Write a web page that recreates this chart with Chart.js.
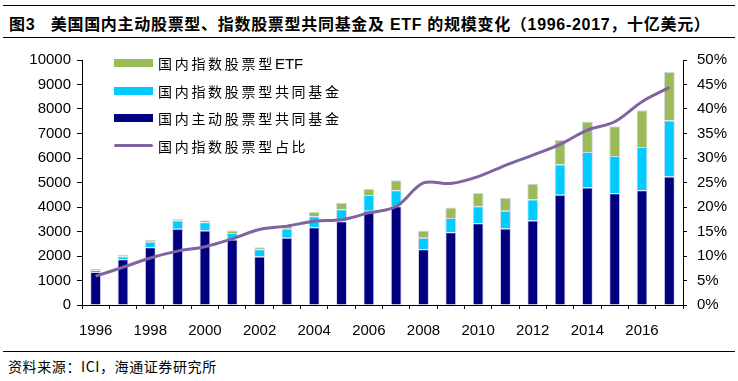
<!DOCTYPE html>
<html>
<head>
<meta charset="utf-8">
<script src="https://cdn.jsdelivr.net/npm/chart.js@4/dist/chart.umd.min.js"></script>
<style>
  body { margin: 0; background: #fff; width: 738px; height: 381px; position: relative; overflow: hidden; font-family: "Liberation Sans", Arial, "Noto Sans CJK SC", sans-serif; }
  .rule { position: absolute; left: 3px; right: 3px; height: 0; border-top: 1px solid #000; }
  #title { position: absolute; left: 9px; top: 11px; font-size: 16px; font-weight: bold; white-space: nowrap; letter-spacing: 0.7px; }
  #source { position: absolute; left: 8px; top: 356px; font-size: 14px; letter-spacing: 0.6px; font-family: "Noto Sans CJK SC", sans-serif; white-space: nowrap; }
  #wrap { position: absolute; left: 0; top: 40px; width: 738px; height: 305px; }
  #legend { position: absolute; left: 114px; top: 52px; font-family: "Noto Sans CJK SC", sans-serif; font-size: 14px; letter-spacing: 2.7px; }
  .item { position: relative; height: 27.5px; }
  .sw { position: absolute; left: 0; top: 7px; width: 39px; height: 8px; }
  .ln { position: absolute; left: 0; top: 9px; width: 39px; height: 3px; border-radius: 2px; }
  .tx { position: absolute; left: 44px; top: 0; line-height: 22px; white-space: nowrap; }
  .latin { font-family: "Liberation Sans", Arial, sans-serif; letter-spacing: 0; font-size: 15px; }
</style>
</head>
<body>
<div class="rule" style="top:5px"></div>
<div id="title">图3&nbsp;&nbsp;&nbsp;美国国内主动股票型、指数股票型共同基金及 ETF 的规模变化（1996-2017，十亿美元）</div>
<div class="rule" style="top:37px"></div>
<div id="wrap"><canvas id="c" width="738" height="305"></canvas></div>
<div id="legend"></div>
<div class="rule" style="top:351px"></div>
<div id="source">资料来源：ICI，海通证券研究所</div>
<script>
const years = ["1996","1997","1998","1999","2000","2001","2002","2003","2004","2005","2006",
               "2007","2008","2009","2010","2011","2012","2013","2014","2015","2016","2017"];
const activeFund = [1350,1870,2360,3110,3040,2670,1980,2750,3170,3420,3850,
                    4030,2280,2970,3340,3120,3450,4500,4800,4560,4680,5250];
const indexFund = [70,110,220,340,340,270,300,360,450,490,640,
                   650,470,580,690,730,860,1230,1440,1520,1770,2280];
const indexEtf = [50,70,80,60,80,100,80,160,190,260,250,
                  410,290,430,540,530,640,1000,1250,1220,1500,1980];
const indexShare = [5.9,7.7,9.6,11.0,11.9,13.5,15.4,16.1,17.1,17.4,18.8,
                    20.1,24.9,24.8,26.2,28.5,30.6,32.8,35.7,37.4,41.5,44.4];

const navy = "#000080", cyan = "#00CCFF", green = "#9BBB59", purple = "#8064A2";
const edge = "rgba(210,210,235,0.9)";

Chart.defaults.font.family = "'Liberation Sans', Arial, sans-serif";
Chart.defaults.font.size = 15;
Chart.defaults.color = "#000";

new Chart(document.getElementById("c"), {
  type: "bar",
  data: {
    labels: years,
    datasets: [
      { label: "国内主动股票型共同基金", data: activeFund, backgroundColor: navy, borderColor: edge, borderWidth: 1, order: 1 },
      { label: "国内指数股票型共同基金", data: indexFund, backgroundColor: cyan, borderColor: edge, borderWidth: 1, order: 1 },
      { label: "国内指数股票型ETF", data: indexEtf, backgroundColor: green, borderColor: edge, borderWidth: 1, order: 1 },
      { type: "line", label: "国内指数股票型占比", data: indexShare, yAxisID: "y1", borderColor: purple,
        borderWidth: 3, pointRadius: 0, tension: 0.35, order: 0 }
    ]
  },
  options: {
    responsive: false,
    animation: false,
    categoryPercentage: 0.4,
    barPercentage: 1,
    layout: { padding: { top: 20 } },
    plugins: { legend: { display: false }, tooltip: { enabled: false } },
    scales: {
      x: {
        stacked: true,
        grid: { drawOnChartArea: false, tickLength: 4, color: "#000", offset: true },
        border: { color: "#000" },
        ticks: { autoSkip: false, maxRotation: 0, padding: 13,
                 callback: (v, i) => i % 2 === 0 ? years[i] : "" },
        afterFit: s => { s.height = 40; }
      },
      y: {
        stacked: true,
        min: 0, max: 10000,
        grid: { drawOnChartArea: false, tickLength: 5, color: "#000" },
        border: { color: "#000" },
        ticks: { stepSize: 1000, padding: 6, callback: v => String(v) },
        afterFit: s => { s.width = 82; }
      },
      y1: {
        position: "right",
        min: 0, max: 50,
        grid: { drawOnChartArea: false, tickLength: 4, color: "#000" },
        border: { color: "#000" },
        ticks: { stepSize: 5, padding: 10, callback: v => v + "%" },
        afterFit: s => { s.width = 55; }
      }
    }
  }
});

// legend inside plot area, top-left
const legendItems = [
  { text: '国内指数股票型<span class="latin">ETF</span>', color: green, kind: "sw" },
  { text: "国内指数股票型共同基金", color: cyan, kind: "sw" },
  { text: "国内主动股票型共同基金", color: navy, kind: "sw" },
  { text: "国内指数股票型占比", color: purple, kind: "ln" }
];
const leg = document.getElementById("legend");
legendItems.forEach(it => {
  const d = document.createElement("div");
  d.className = "item";
  d.innerHTML = '<div class="' + it.kind + '" style="background:' + it.color + '"></div><div class="tx">' + it.text + '</div>';
  leg.appendChild(d);
});
</script>
</body>
</html>
